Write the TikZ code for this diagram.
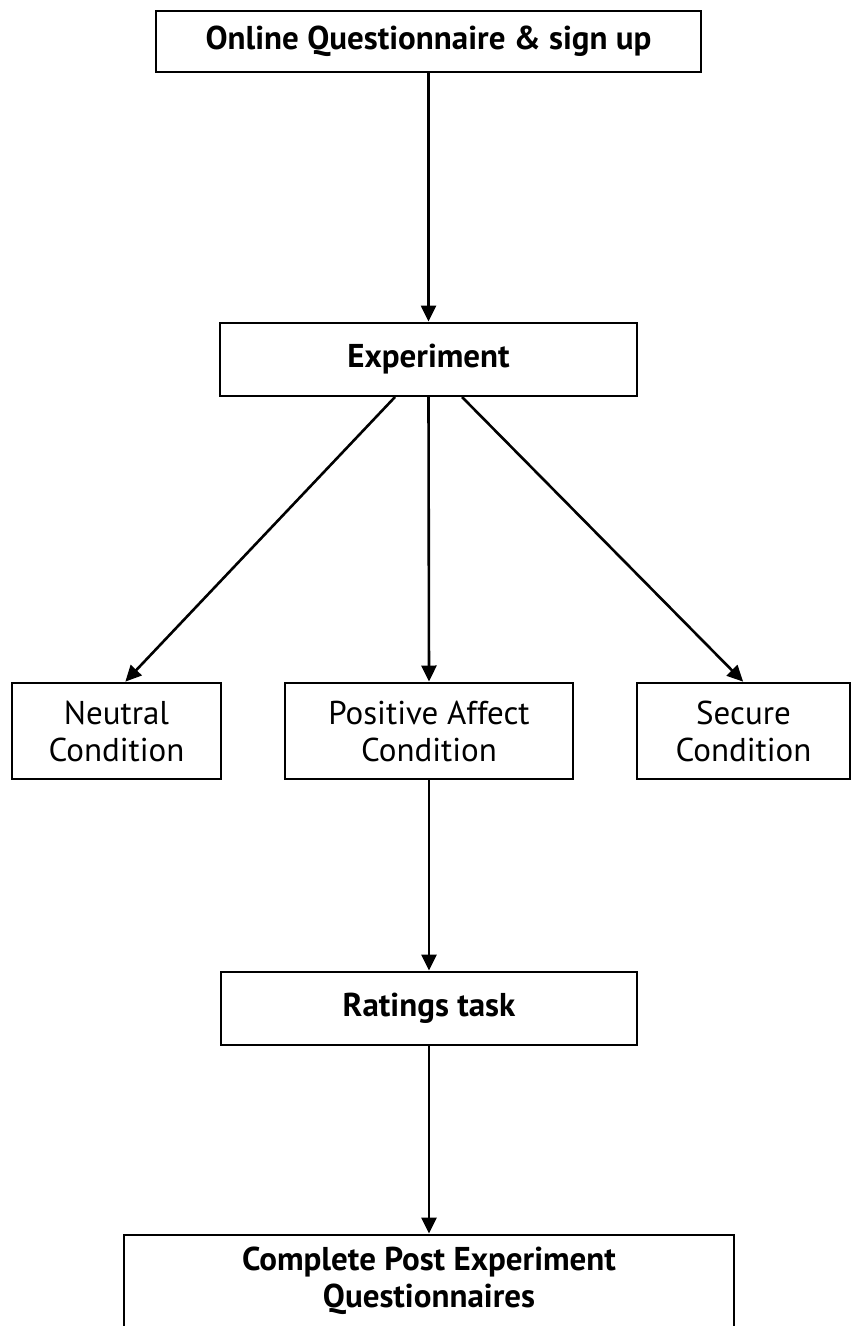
\documentclass[tikz,border=0pt]{standalone}
\usepackage{fontspec}
\setmainfont{PT Sans}
\usetikzlibrary{arrows.meta}
\tikzset{
  stage/.style={draw=black, line width=2pt, fill=white, align=center, inner sep=0pt,
    font=\fontsize{33}{37}\selectfont},
  boldstage/.style={stage, font=\fontsize{33}{37}\selectfont\bfseries},
  flow/.style={line width=2.6pt, -{Triangle[length=16pt,width=15pt]}, shorten >=0.5pt}
}
\begin{document}
\begin{tikzpicture}[x=1pt,y=-1pt]
  \useasboundingbox (0,0) rectangle (852,1326);
  \clip (0,0) rectangle (852,1326);
  % stages, top to bottom
  \node[boldstage, minimum width=545pt, minimum height=61pt] (signup) at (428.5,41.5) {Online Questionnaire \& sign up};
  \node[boldstage, minimum width=417pt, minimum height=73pt] (exp) at (428.5,359.5) {Experiment};
  \node[stage, minimum width=209pt, minimum height=96pt] (neutral) at (116.5,731) {Neutral\\Condition};
  \node[stage, minimum width=288pt, minimum height=96pt] (positive) at (429,731) {Positive Affect\\Condition};
  \node[stage, minimum width=213pt, minimum height=96pt] (secure) at (743.5,731) {Secure\\Condition};
  \node[boldstage, minimum width=416pt, minimum height=73pt] (ratings) at (429,1008.5) {Ratings task};
  % last stage runs past the lower edge
  \node[boldstage, minimum width=610pt, inner ysep=12pt, anchor=north] (post) at (429,1234)
    {Complete Post Experiment\\Questionnaires};
  % connectors
  \draw[flow] (signup.south) -- (exp.north);
  \draw[flow] ([xshift=-33.5pt]exp.south) -- ([xshift=8.5pt]neutral.north);
  \draw[flow] (exp.south) -- (positive.north);
  \draw[flow] ([xshift=33.5pt]exp.south) -- (secure.north);
  \draw[flow] (positive.south) -- (ratings.north);
  \draw[flow] (ratings.south) -- (post.north);
\end{tikzpicture}
\end{document}
